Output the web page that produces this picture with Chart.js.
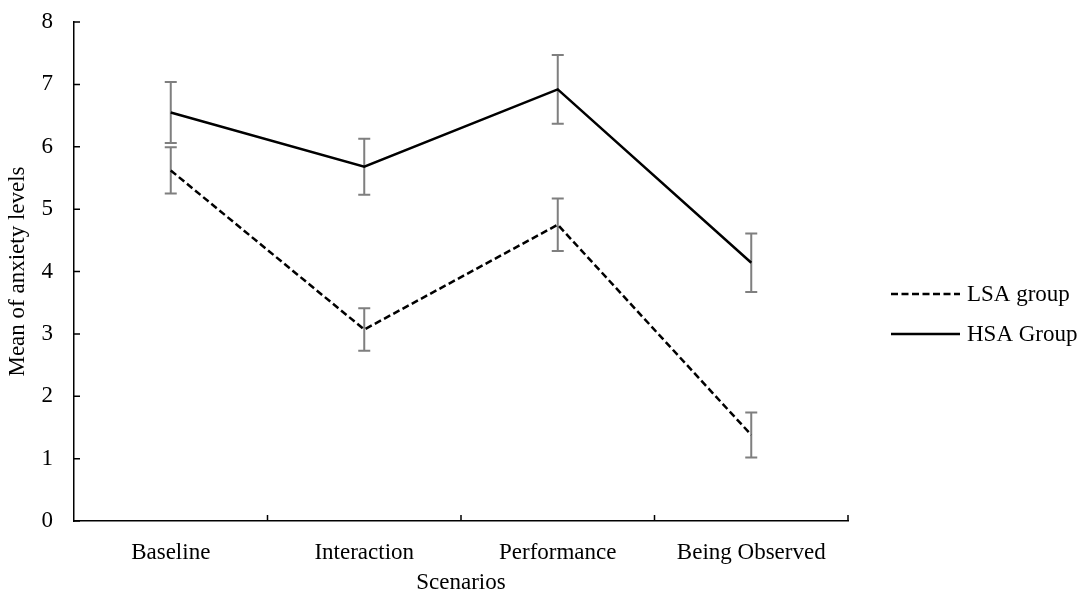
<!DOCTYPE html>
<html lang="en">
<head>
  <meta charset="UTF-8">
  <title>Mean of anxiety levels by scenario</title>
  <script src="https://cdn.jsdelivr.net/npm/chart.js"></script>
  <style>
    html, body { margin: 0; padding: 0; background: #fff; }
    .chart-box { width: 1091px; height: 597px; position: relative; }
  </style>
</head>
<body>
  <div class="chart-box">
    <canvas id="anxietyChart"></canvas>
  </div>

  <script>
    // Data
    const scenarios = ['Baseline', 'Interaction', 'Performance', 'Being Observed'];
    const lsaMeans = [5.62, 3.07, 4.75, 1.38];
    const lsaErrors = [0.37, 0.34, 0.42, 0.36];
    const hsaMeans = [6.55, 5.68, 6.92, 4.14];
    const hsaErrors = [0.49, 0.45, 0.55, 0.47];
    const yTicks = [0, 1, 2, 3, 4, 5, 6, 7, 8];

    const serif = "'Liberation Serif', 'Times New Roman', serif";

    // Grey error bars with caps, drawn under the lines
    const errorBars = {
      id: 'errorBars',
      beforeDatasetsDraw(chart) {
        const ctx = chart.ctx;
        const yScale = chart.scales.y;
        ctx.save();
        ctx.strokeStyle = '#7f7f7f';
        ctx.lineWidth = 2;
        chart.data.datasets.forEach((ds, i) => {
          const meta = chart.getDatasetMeta(i);
          meta.data.forEach((pt, j) => {
            const top = yScale.getPixelForValue(ds.data[j] + ds.errors[j]);
            const bottom = yScale.getPixelForValue(ds.data[j] - ds.errors[j]);
            ctx.beginPath();
            ctx.moveTo(pt.x, top);
            ctx.lineTo(pt.x, bottom);
            ctx.moveTo(pt.x - 6, top);
            ctx.lineTo(pt.x + 6, top);
            ctx.moveTo(pt.x - 6, bottom);
            ctx.lineTo(pt.x + 6, bottom);
            ctx.stroke();
          });
        });
        ctx.restore();
      }
    };

    // Excel style tick marks pointing into the plot
    const innerTicks = {
      id: 'innerTicks',
      afterDraw(chart) {
        const ctx = chart.ctx;
        const area = chart.chartArea;
        const x = chart.scales.x;
        const y = chart.scales.y;
        ctx.save();
        ctx.strokeStyle = '#000';
        ctx.lineWidth = 1.5;
        ctx.beginPath();
        y.ticks.forEach(t => {
          const py = y.getPixelForValue(t.value);
          ctx.moveTo(area.left, py);
          ctx.lineTo(area.left + 6, py);
        });
        for (let i = 0; i < scenarios.length; i++) {
          const px = i < scenarios.length - 1
            ? (x.getPixelForValue(i) + x.getPixelForValue(i + 1)) / 2
            : area.right;
          ctx.moveTo(px, area.bottom);
          ctx.lineTo(px, area.bottom - 6);
        }
        ctx.stroke();
        ctx.restore();
      }
    };

    // Legend on the right: line sample + label
    const sideLegend = {
      id: 'sideLegend',
      afterDraw(chart) {
        const ctx = chart.ctx;
        const area = chart.chartArea;
        const x0 = area.right + 43;
        let y0 = area.top + 272;
        ctx.save();
        ctx.font = '23px ' + serif;
        ctx.textBaseline = 'middle';
        ctx.fillStyle = '#000';
        chart.data.datasets.forEach(ds => {
          ctx.strokeStyle = ds.borderColor;
          ctx.lineWidth = ds.borderWidth;
          ctx.setLineDash(ds.borderDash || []);
          ctx.beginPath();
          ctx.moveTo(x0, y0);
          ctx.lineTo(x0 + 69, y0);
          ctx.stroke();
          ctx.setLineDash([]);
          ctx.fillText(ds.label, x0 + 76, y0 + 1);
          y0 += 40;
        });
        ctx.restore();
      }
    };

    const ctx = document.getElementById('anxietyChart').getContext('2d');
    new Chart(ctx, {
      type: 'line',
      data: {
        labels: scenarios,
        datasets: [
          {
            label: 'LSA group',
            data: lsaMeans,
            errors: lsaErrors,
            borderColor: '#000',
            borderWidth: 2.5,
            borderDash: [7, 3.5],
            pointRadius: 0,
            tension: 0
          },
          {
            label: 'HSA Group',
            data: hsaMeans,
            errors: hsaErrors,
            borderColor: '#000',
            borderWidth: 2.5,
            pointRadius: 0,
            tension: 0
          }
        ]
      },
      options: {
        responsive: true,
        maintainAspectRatio: false,
        animation: false,
        layout: { padding: { top: 22, right: 243, bottom: 0, left: 0 } },
        plugins: {
          legend: { display: false },
          tooltip: { enabled: false }
        },
        scales: {
          x: {
            offset: true,
            grid: { display: false },
            border: { color: '#000', width: 1.5 },
            ticks: { color: '#000', padding: 10, font: { family: serif, size: 23 } },
            title: {
              display: true,
              text: 'Scenarios',
              color: '#000',
              padding: { top: 0, bottom: 0 },
              font: { family: serif, size: 23 }
            },
            afterFit(scale) {
              scale.height = 76;
              scale.paddingLeft = 0;
              scale.paddingRight = 0;
            }
          },
          y: {
            min: 0,
            max: 8,
            afterBuildTicks(scale) { scale.ticks = yTicks.map(v => ({ value: v })); },
            grid: { display: false },
            border: { color: '#000', width: 1.5 },
            ticks: { color: '#000', padding: 13, font: { family: serif, size: 23 } },
            title: {
              display: true,
              text: 'Mean of anxiety levels',
              color: '#000',
              padding: { top: 4, bottom: 4 },
              font: { family: serif, size: 23 }
            },
            afterFit(scale) {
              scale.width = 74;
              scale.paddingTop = 0;
              scale.paddingBottom = 0;
            }
          }
        }
      },
      plugins: [errorBars, innerTicks, sideLegend]
    });
  </script>
</body>
</html>
